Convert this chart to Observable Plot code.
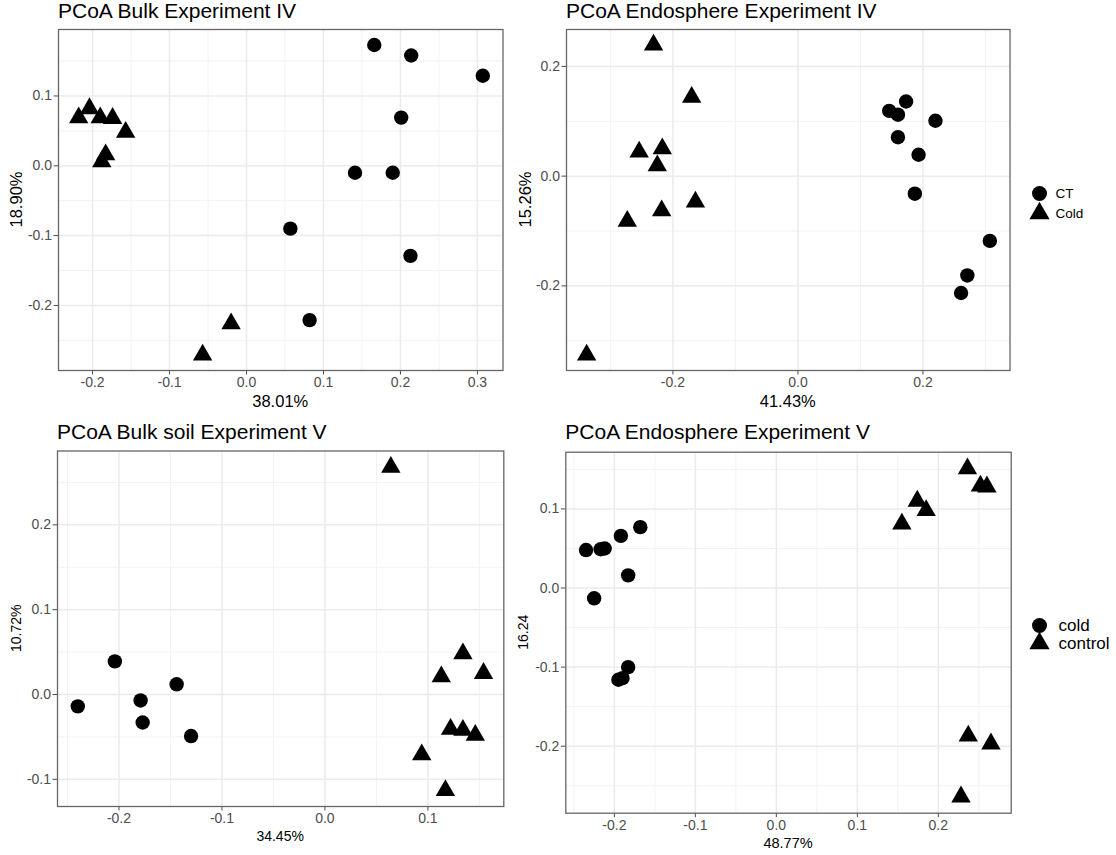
<!DOCTYPE html>
<html>
<head>
<meta charset="utf-8">
<script src="https://cdn.jsdelivr.net/npm/d3@7"></script>
<script src="https://cdn.jsdelivr.net/npm/@observablehq/plot@0.6"></script>
<style>
  html, body { margin: 0; padding: 0; background: #fff; }
  #chart { position: relative; width: 1116px; height: 855px; overflow: hidden; background: #fff;
           font-family: "Liberation Sans", Arial, Helvetica, sans-serif; }
  #chart > svg { position: absolute; }
</style>
</head>
<body>
<div id="chart"></div>
<script>
// ---- PCoA coordinates (axis 1 = x, axis 2 = y) ----

// Bulk, Experiment IV
const bulkIV_CT_x   = [0.166, 0.214, 0.307, 0.201, 0.141, 0.190, 0.057, 0.213, 0.082];
const bulkIV_CT_y   = [0.173, 0.158, 0.129, 0.069, -0.010, -0.010, -0.090, -0.129, -0.221];
const bulkIV_Cold_x = [-0.218, -0.204, -0.190, -0.174, -0.157, -0.183, -0.188, -0.020, -0.057];
const bulkIV_Cold_y = [0.069, 0.082, 0.069, 0.068, 0.048, 0.016, 0.006, -0.226, -0.271];

// Endosphere, Experiment IV
const endoIV_CT_x   = [0.146, 0.160, 0.173, 0.220, 0.160, 0.193, 0.187, 0.307, 0.271, 0.261];
const endoIV_CT_y   = [0.119, 0.112, 0.136, 0.101, 0.071, 0.039, -0.032, -0.118, -0.181, -0.213];
const endoIV_Cold_x = [-0.231, -0.170, -0.254, -0.217, -0.225, -0.164, -0.218, -0.273, -0.338];
const endoIV_Cold_y = [0.239, 0.144, 0.044, 0.050, 0.019, -0.047, -0.063, -0.082, -0.326];

// Bulk soil, Experiment V
const bulkV_cold_x    = [-0.240, -0.204, -0.179, -0.177, -0.144, -0.130];
const bulkV_cold_y    = [-0.014, 0.039, -0.007, -0.033, 0.012, -0.049];
const bulkV_control_x = [0.064, 0.134, 0.113, 0.154, 0.122, 0.134, 0.146, 0.094, 0.117];
const bulkV_control_y = [0.268, 0.048, 0.021, 0.025, -0.041, -0.042, -0.048, -0.071, -0.113];

// Endosphere, Experiment V
const endoV_cold_x    = [-0.235, -0.217, -0.212, -0.192, -0.168, -0.183, -0.225, -0.183, -0.195, -0.190];
const endoV_cold_y    = [0.048, 0.049, 0.050, 0.066, 0.077, 0.016, -0.013, -0.100, -0.116, -0.114];
const endoV_control_x = [0.236, 0.252, 0.260, 0.174, 0.185, 0.155, 0.237, 0.265, 0.228];
const endoV_control_y = [0.151, 0.129, 0.128, 0.110, 0.098, 0.081, -0.187, -0.197, -0.264];

// Group names (legend order: circle first, triangle second)
const groupsIV = ["CT", "Cold"];
const groupsV  = ["cold", "control"];

// Panel titles and axis titles
const titles  = ["PCoA Bulk Experiment IV", "PCoA Endosphere Experiment IV",
                 "PCoA Bulk soil Experiment V", "PCoA Endosphere Experiment V"];
const xTitles = ["38.01%", "41.43%", "34.45%", "48.77%"];
const yTitles = ["18.90%", "15.26%", "10.72%", "16.24"];

// Tick values
const ticksX = [[-0.2, -0.1, 0, 0.1, 0.2, 0.3], [-0.2, 0, 0.2], [-0.2, -0.1, 0, 0.1], [-0.2, -0.1, 0, 0.1, 0.2]];
const ticksY = [[-0.2, -0.1, 0, 0.1], [-0.2, 0, 0.2], [-0.1, 0, 0.1, 0.2], [-0.2, -0.1, 0, 0.1]];

// ---- helpers ----
const FONT = '"Liberation Sans", Arial, Helvetica, sans-serif';
const SYMBOLS = ["circle", "triangle"];

function rows(names, xsA, ysA, xsB, ysB) {
  const out = [];
  xsA.forEach((x, i) => out.push({x, y: ysA[i], group: names[0]}));
  xsB.forEach((x, i) => out.push({x, y: ysB[i], group: names[1]}));
  return out;
}

// data range widened by 5% on each side
function expand([lo, hi]) {
  const pad = (hi - lo) * 0.05;
  return [lo - pad, hi + pad];
}

// minor breaks halfway between major breaks, inside the domain
function minor(ticks, [lo, hi]) {
  const step = ticks[1] - ticks[0];
  const out = [];
  for (let v = ticks[0] - step / 2; v <= hi + 1e-9; v += step) {
    if (v >= lo - 1e-9) out.push(+v.toFixed(4));
  }
  return out;
}

const chart = document.getElementById("chart");

function panel({data, names, xt, yt, box, frame}) {
  const xd = expand(d3.extent(data, d => d.x));
  const yd = expand(d3.extent(data, d => d.y));
  const svg = Plot.plot({
    width: box.width,
    height: box.height,
    marginLeft: frame.x0 - box.left,
    marginRight: box.left + box.width - frame.x1,
    marginTop: frame.y0 - box.top,
    marginBottom: box.top + box.height - frame.y1,
    style: {background: "transparent", overflow: "visible", fontFamily: FONT,
            fontSize: "14px", color: "#4d4d4d", maxWidth: "none"},
    x: {domain: xd, ticks: xt, tickSize: 4.5, tickPadding: 2, tickFormat: d => d.toFixed(1), label: null},
    y: {domain: yd, ticks: yt, tickSize: 4.5, tickPadding: 2, tickFormat: d => d.toFixed(1), label: null},
    symbol: {domain: names, range: SYMBOLS},
    marks: [
      Plot.ruleX(minor(xt, xd), {stroke: "#f2f2f2", strokeWidth: 1}),
      Plot.ruleY(minor(yt, yd), {stroke: "#f2f2f2", strokeWidth: 1}),
      Plot.ruleX(xt, {stroke: "#ebebeb", strokeWidth: 1.5}),
      Plot.ruleY(yt, {stroke: "#ebebeb", strokeWidth: 1.5}),
      Plot.dot(data, {x: "x", y: "y", symbol: "group", fill: "#000", r: 7.2}),
      Plot.frame({stroke: "#666", strokeWidth: 1.3})
    ]
  });
  svg.style.left = box.left + "px";
  svg.style.top = box.top + "px";
  chart.appendChild(svg);
}

function legend({names, left, top, width, height, yRange, fontSize, labelDx}) {
  const svg = Plot.plot({
    width, height, margin: 0,
    style: {background: "transparent", overflow: "visible", fontFamily: FONT,
            fontSize: fontSize + "px", color: "#000", maxWidth: "none"},
    y: {type: "point", domain: names, range: yRange, padding: 0, axis: null},
    symbol: {domain: names, range: SYMBOLS},
    marks: [
      Plot.dot(names, {y: d => d, symbol: d => d, fill: "#000", r: 7.5, frameAnchor: "left", dx: 9}),
      Plot.text(names, {y: d => d, text: d => d, frameAnchor: "left", dx: labelDx,
                        textAnchor: "start", fill: "#000"})
    ]
  });
  svg.style.left = left + "px";
  svg.style.top = top + "px";
  chart.appendChild(svg);
}

// ---- four panels ----
const frames = [
  {x0: 58,    x1: 502.5,  y0: 29,    y1: 370},
  {x0: 566,   x1: 1009.5, y0: 29,    y1: 370},
  {x0: 57,    x1: 503.3,  y0: 450.5, y1: 806},
  {x0: 565.3, x1: 1010.7, y0: 451.7, y1: 812.7}
];
const boxes = [
  {left: 0,   top: 0,   width: 530, height: 415},
  {left: 530, top: 0,   width: 586, height: 415},
  {left: 0,   top: 415, width: 530, height: 440},
  {left: 530, top: 415, width: 586, height: 440}
];
const datasets = [
  rows(groupsIV, bulkIV_CT_x, bulkIV_CT_y, bulkIV_Cold_x, bulkIV_Cold_y),
  rows(groupsIV, endoIV_CT_x, endoIV_CT_y, endoIV_Cold_x, endoIV_Cold_y),
  rows(groupsV, bulkV_cold_x, bulkV_cold_y, bulkV_control_x, bulkV_control_y),
  rows(groupsV, endoV_cold_x, endoV_cold_y, endoV_control_x, endoV_control_y)
];
const names = [groupsIV, groupsIV, groupsV, groupsV];

for (let i = 0; i < 4; i++) {
  panel({data: datasets[i], names: names[i], xt: ticksX[i], yt: ticksY[i], box: boxes[i], frame: frames[i]});
}

legend({names: groupsIV, left: 1030, top: 170, width: 86, height: 60, yRange: [22.7, 42.7], fontSize: 13.5, labelDx: 25});
legend({names: groupsV, left: 1030, top: 600, width: 86, height: 60, yRange: [25, 43.3], fontSize: 17, labelDx: 28});

// ---- titles and axis titles ----
const overlay = d3.create("svg")
  .attr("width", 1116).attr("height", 855)
  .style("left", "0px").style("top", "0px").style("pointer-events", "none")
  .attr("font-family", FONT).attr("fill", "#000");

const titleBase = [18.3, 18.3, 438.5, 439];
const xTitleBase = [406.5, 406.7, 840.7, 848.2];
const xTitleSize = [16.5, 16.5, 14, 14.5];
const yTitleBase = [21.9, 530.5, 20.9, 528.3];
const yTitleSize = [16.5, 16.5, 14, 14];

frames.forEach((f, i) => {
  overlay.append("text").attr("x", f.x0).attr("y", titleBase[i])
    .attr("font-size", 21).text(titles[i]);
  overlay.append("text").attr("x", (f.x0 + f.x1) / 2).attr("y", xTitleBase[i])
    .attr("text-anchor", "middle").attr("font-size", xTitleSize[i]).text(xTitles[i]);
  overlay.append("text")
    .attr("transform", `translate(${yTitleBase[i]},${(f.y0 + f.y1) / 2}) rotate(-90)`)
    .attr("text-anchor", "middle").attr("font-size", yTitleSize[i]).text(yTitles[i]);
});

chart.appendChild(overlay.node());
</script>
</body>
</html>
